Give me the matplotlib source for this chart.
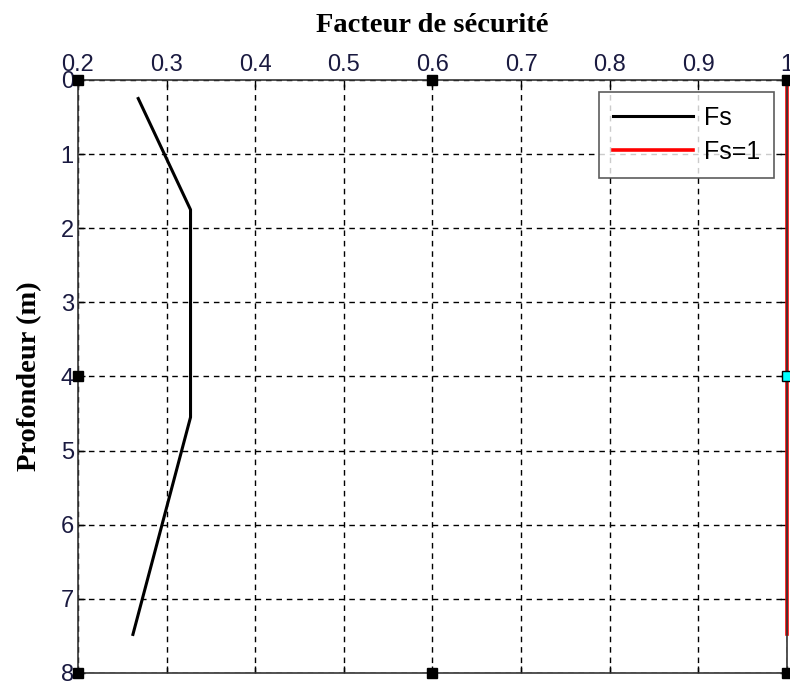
import matplotlib
matplotlib.use('Agg')
import matplotlib.pyplot as plt
import numpy as np

# data
depth_fs = [0.25, 1.75, 4.55, 7.48]
fs = [0.268, 0.327, 0.327, 0.262]
depth_one = [0.0, 7.48]
fs_one = [1.0, 1.0]

x_ticks = [0.2, 0.3, 0.4, 0.5, 0.6, 0.7, 0.8, 0.9, 1.0]
x_labels = ['0.2', '0.3', '0.4', '0.5', '0.6', '0.7', '0.8', '0.9', '1']
y_ticks = [0, 1, 2, 3, 4, 5, 6, 7, 8]

# selection handles drawn by the editor
handle_x = [0.2, 0.6, 1.0, 0.2, 0.2, 0.6, 1.0]
handle_y = [0, 0, 0, 4, 8, 8, 8]

fig = plt.figure(figsize=(7.9, 6.86), dpi=100)
ax = fig.add_axes([0.0987, 0.019, 0.8975, 0.8644])

ax.plot(fs, depth_fs, color='black', lw=2.2, label='Fs')
ax.plot(fs_one, depth_one, color='red', lw=2.6, label='Fs=1', clip_on=False)

ax.set_xlim(0.2, 1.0)
ax.set_ylim(8, 0)
ax.set_xticks(x_ticks)
ax.set_xticklabels(x_labels)
ax.set_yticks(y_ticks)
ax.xaxis.tick_top()
ax.xaxis.set_label_position('top')
ax.tick_params(axis='both', direction='in', length=5, width=1, labelsize=17,
               top=True, bottom=True, left=True, right=True, pad=3)
for lab in ax.get_xticklabels() + ax.get_yticklabels():
    lab.set_fontfamily('Liberation Sans')
    lab.set_color('#1a1a40')

ax.grid(True, color='black', linestyle=(0, (4, 3.5)), linewidth=1)
for s in ax.spines.values():
    s.set_linewidth(1.2)
    s.set_color('#333333')

ax.set_xlabel('Facteur de sécurité', fontfamily='Liberation Serif',
              fontweight='bold', fontsize=20.5, labelpad=16)
ax.set_ylabel('Profondeur (m)', fontfamily='Liberation Serif',
              fontweight='bold', fontsize=20.5, labelpad=13)

ax.plot(handle_x, handle_y, 's', color='black', ms=7, clip_on=False, zorder=5)
ax.plot([1.0], [4], 's', color='cyan', mec='black', ms=7, clip_on=False, zorder=5)

leg = ax.legend(loc='upper right', prop={'family': 'Liberation Sans', 'size': 18},
                frameon=True, fancybox=False, handlelength=3.2,
                borderaxespad=0.5, labelspacing=0.4, borderpad=0.55,
                handletextpad=0.45)
leg.get_frame().set_edgecolor('#333333')
leg.get_frame().set_linewidth(1.2)

fig.savefig('out.png', dpi=100)
